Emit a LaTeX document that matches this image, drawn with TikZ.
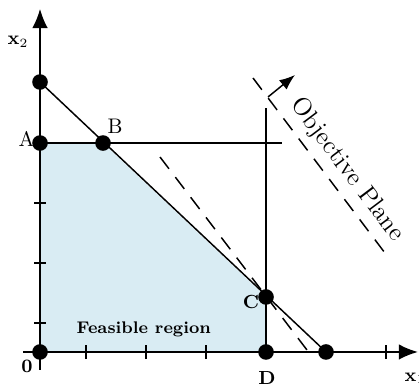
\documentclass[tikz,border=0pt]{standalone}
\usepackage{xcolor}
\usepackage{tikz}
\usetikzlibrary{arrows.meta,positioning,calc}
\definecolor{feasblue}{RGB}{217,236,243}
\tikzset{
  axisline/.style={-{Latex[length=3.2mm,width=2.6mm]},line width=0.9pt},
  boundline/.style={line width=0.7pt},
  objline/.style={dashed,dash pattern=on 7pt off 5pt,line width=0.7pt},
  cornerdot/.style={circle,fill=black,inner sep=0pt,minimum size=2.6mm},
  ptlabel/.style={font=\normalsize},
  boldlabel/.style={font=\bfseries\small},
  tickmark/.style={line width=0.7pt}
}

\begin{document}
\begin{tikzpicture}[x=1cm,y=1cm]
  \useasboundingbox (-0.667,-0.633) rectangle (6.317,5.867);
  % feasible region
  \fill[feasblue] (0,0) -- (0,3.483) -- (1.05,3.483) -- (3.767,0.917) -- (3.767,0) -- cycle;
  % constraints
  \coordinate (top) at (0,4.5);
  \coordinate (xint) at (4.767,0);
  \draw[boundline] (top) -- (xint);
  \draw[boundline] (0,3.483) -- (4.033,3.483);
  \draw[boundline] (3.767,0) -- (3.767,4.067);
  % axes
  \draw[axisline] (-0.28,0) -- (6.3,0);
  \draw[axisline] (0,-0.3) -- (0,5.72);
  \foreach \i in {0,...,5}
    \draw[tickmark] (0.767+\i,-0.12) -- (0.767+\i,0.12);
  \foreach \j in {0,...,4}
    \draw[tickmark] (-0.1,0.483+\j) -- (0.1,0.483+\j);
  % objective lines
  \coordinate (objA) at (3.55,4.567);
  \coordinate (objB) at (5.8,1.583);
  \draw[objline] (objA) -- (objB);
  \coordinate (parA) at (2.0,3.25);
  \coordinate (parB) at (4.45,0.033);
  \draw[objline] (parA) -- (parB);
  \coordinate (dirS) at (3.8,4.25);
  \coordinate (dirE) at (4.25,4.617);
  \draw[-{Latex[length=2.6mm,width=2mm]},line width=0.7pt] (dirS) -- (dirE);
  \node[rotate=-53,font=\large] (objlbl) at (5.117,3.033) {Objective Plane};
  % corner points
  \node[cornerdot] (O) at (0,0) {};
  \node[cornerdot] (A) at (0,3.483) {};
  \node[cornerdot] (B) at (1.05,3.483) {};
  \node[cornerdot] (C) at (3.767,0.917) {};
  \node[cornerdot] (D) at (3.767,0) {};
  \node[cornerdot] (T) at (top) {};
  \node[cornerdot] (X) at (xint) {};
  % labels
  \node[boldlabel] (Olbl) at (-0.217,-0.233) {0};
  \node[ptlabel,anchor=east,inner sep=1pt] (Albl) at (-0.05,3.55) {A};
  \node[ptlabel] (Blbl) at (1.25,3.77) {B};
  \node[boldlabel] (Clbl) at (3.517,0.833) {C};
  \node[boldlabel] (Dlbl) at (3.783,-0.433) {D};
  \node[boldlabel] (x2lbl) at (-0.367,5.17) {x$_2$};
  \node[boldlabel] (x1lbl) at (6.25,-0.433) {x$_1$};
  \node[font=\bfseries\footnotesize] (feas) at (1.73,0.37) {Feasible region};
\end{tikzpicture}
\end{document}
